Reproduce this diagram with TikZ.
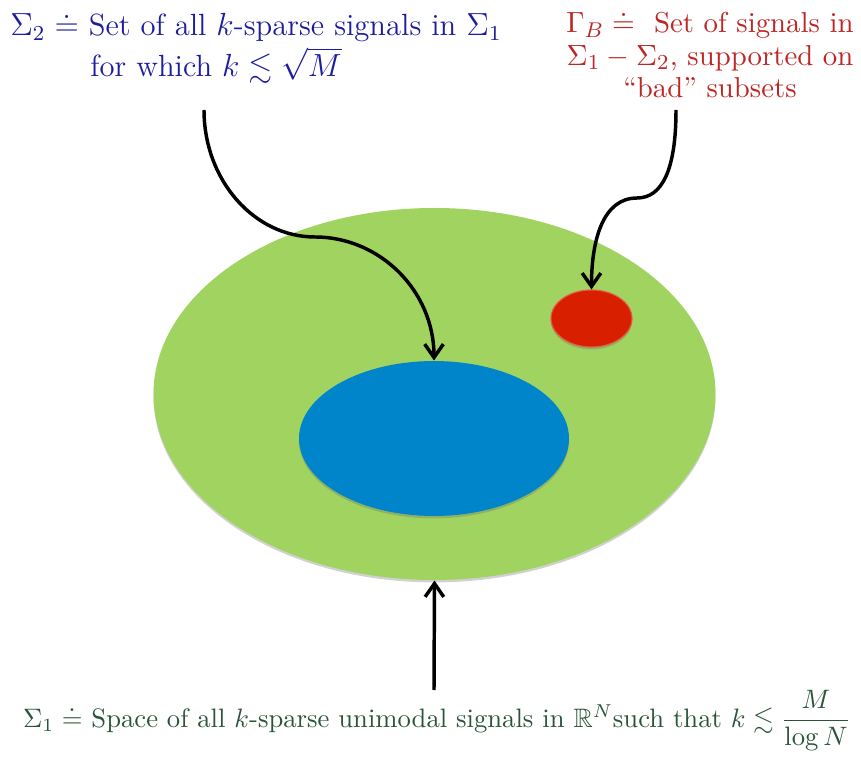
\documentclass[tikz,border=0pt]{standalone}
\usepackage{amsmath,amssymb}
\usepackage{tikz}
\usetikzlibrary{positioning,arrows.meta,shapes.geometric,shadows}
\definecolor{setgreen}{RGB}{161,211,96}
\definecolor{setblue}{RGB}{0,132,202}
\definecolor{setred}{RGB}{216,32,0}
\definecolor{edgered}{RGB}{232,90,80}
\definecolor{txtblue}{RGB}{28,28,158}
\definecolor{txtred}{RGB}{188,38,36}
\definecolor{txtgreen}{RGB}{42,84,58}

\begin{document}
\begin{tikzpicture}[
  x=0.375pt,y=-0.375pt,
  every node/.style={font=\normalsize},
  region/.style={ellipse,inner sep=0pt,
    drop shadow={shadow xshift=0pt,shadow yshift=-0.9pt,opacity=.3,fill=black!60}},
  pointer/.style={-{Straight Barb[length=5pt,width=7pt]},line width=1.3pt}
]
\useasboundingbox (0,0) rectangle (861,759);

% the three sets
\node[region,fill=setgreen,minimum width=210.75pt,minimum height=139.5pt] (sigone) at (434.5,394) {};
\node[region,fill=setblue,minimum width=101.25pt,minimum height=58.1pt] (sigtwo) at (434,438.5) {};
\node[region,fill=setred,draw=edgered,line width=0.4pt,minimum width=30.4pt,minimum height=21.4pt] (gammab) at (591.5,318.5) {};

% labels
\node[txtblue,anchor=base,font=\fontsize{11.5}{14}\selectfont] (sigtwotext) at (256,36)
  {$\Sigma_2 \doteq$ Set of all $k$-sparse signals in $\Sigma_1$};
\node[txtblue,anchor=base,font=\fontsize{11.5}{14}\selectfont] (sigtwotextb) at (216,77)
  {for which $k \lesssim \sqrt{M}$};
\node[txtred,align=center,font=\fontsize{10.8}{12.2}\selectfont] (gammabtext) at (710,54)
  {$\Gamma_B \doteq$ \ Set of signals in\\
   $\Sigma_1-\Sigma_2$, supported on\\
   ``bad'' subsets};
\node[txtgreen,anchor=base] (sigonetext) at (437,727)
  {$\Sigma_1 \doteq$ Space of all $k$-sparse unimodal signals in $\mathbb{R}^N$such that $k \lesssim \dfrac{M}{\log N}$};

% pointers
\coordinate (tailtwo) at (204,110);
\coordinate (tailbad) at (676,110);
\coordinate (tailone) at (434,690);

\draw[pointer] (tailtwo) .. controls (204,180) and (254,237) .. (315,237)
  .. controls (380,237) and (434,291) .. (sigtwo.north);
\draw[pointer] (tailbad) .. controls (676,170) and (662,198) .. (637,198)
  .. controls (603,198) and (591.5,240) .. (gammab.north);
\draw[pointer] (tailone) -- (sigone.south);

\end{tikzpicture}
\end{document}
